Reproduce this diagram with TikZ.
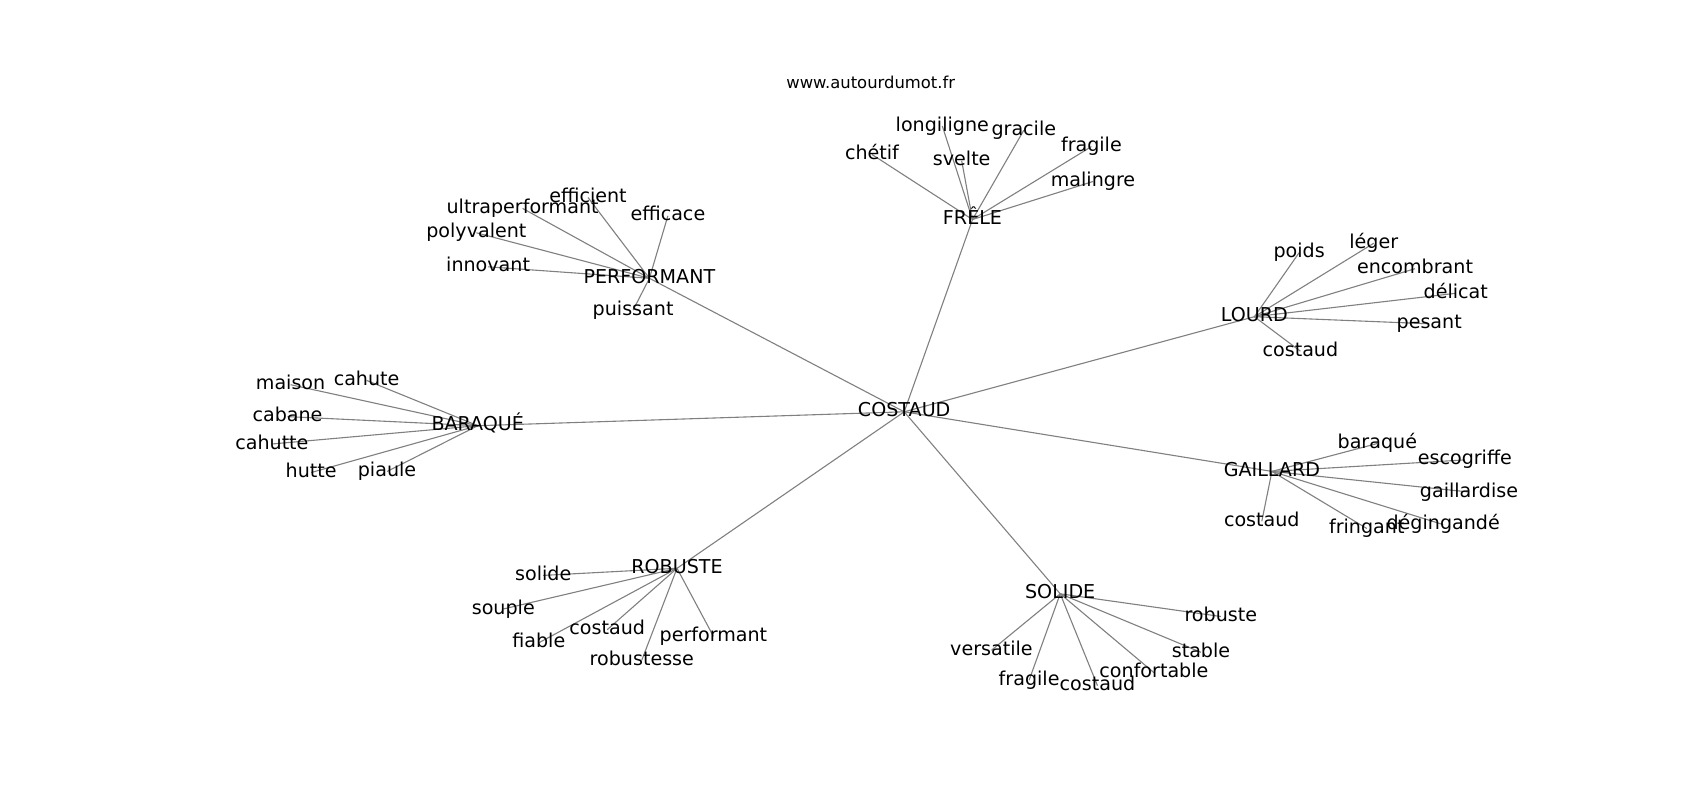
\documentclass[tikz,border=0pt]{standalone}
\usepackage{fontspec}
\setmainfont{DejaVu Sans}
\usetikzlibrary{backgrounds}
\tikzset{
  lbl/.style={inner sep=0pt, anchor=center, text=black, yshift=-2pt,
    font=\fontsize{19.1pt}{23pt}\selectfont, text height=14.5pt, text depth=4.5pt},
  ttl/.style={inner sep=0pt, anchor=center, text=black, yshift=-2pt,
    font=\fontsize{16.4pt}{20pt}\selectfont, text height=12.5pt, text depth=3.9pt},
  link/.style={draw=gray, line width=1.1pt},
}
\begin{document}
\begin{tikzpicture}[x=1pt,y=-1pt]
\useasboundingbox (0,0) rectangle (1700,800);

\node[ttl] (title) at (870.7,82.5) {www.autourdumot.fr};

% centre
\node[lbl] (costaud) at (904.2,409.8) {COSTAUD};

% FRELE
\node[lbl] (frele) at (972.5,217.5) {FRÊLE};
\node[lbl] (chetif) at (872,152.5) {chétif};
\node[lbl] (longiligne) at (942.3,124) {longiligne};
\node[lbl] (svelte) at (961.7,158.8) {svelte};
\node[lbl] (gracile) at (1023.8,128.2) {gracile};
\node[lbl] (fragileA) at (1091.4,144.6) {fragile};
\node[lbl] (malingre) at (1093,179.5) {malingre};

% PERFORMANT
\node[lbl] (performant) at (649.4,276.3) {PERFORMANT};
\node[lbl] (efficient) at (588,195.5) {efficient};
\node[lbl] (ultra) at (522.6,206.4) {ultraperformant};
\node[lbl] (efficace) at (667.9,213.8) {efficace};
\node[lbl] (polyvalent) at (476.4,230.8) {polyvalent};
\node[lbl] (innovant) at (488.1,264.8) {innovant};
\node[lbl] (puissant) at (633.1,308.1) {puissant};

% LOURD
\node[lbl] (lourd) at (1254.4,314.7) {LOURD};
\node[lbl] (poids) at (1299.2,250.6) {poids};
\node[lbl] (leger) at (1373.8,241.2) {léger};
\node[lbl] (encombrant) at (1415,266.7) {encombrant};
\node[lbl] (delicat) at (1455.8,291.3) {délicat};
\node[lbl] (pesant) at (1429.2,321.8) {pesant};
\node[lbl] (costaudL) at (1300.4,349.2) {costaud};

% GAILLARD
\node[lbl] (gaillard) at (1271.9,469.4) {GAILLARD};
\node[lbl] (baraqueG) at (1377.3,441.5) {baraqué};
\node[lbl] (escogriffe) at (1464.9,457.9) {escogriffe};
\node[lbl] (gaillardise) at (1469,490) {gaillardise};
\node[lbl] (degingande) at (1443.2,522.6) {dégingandé};
\node[lbl] (fringant) at (1366.8,526.5) {fringant};
\node[lbl] (costaudG) at (1261.8,519.3) {costaud};

% BARAQUE
\node[lbl] (baraque) at (477.8,423.7) {BARAQUÉ};
\node[lbl] (cahute) at (366.6,378.4) {cahute};
\node[lbl] (maison) at (290.6,382.7) {maison};
\node[lbl] (cabane) at (287.5,414.6) {cabane};
\node[lbl] (cahutte) at (271.9,442) {cahutte};
\node[lbl] (hutte) at (311.2,470.5) {hutte};
\node[lbl] (piaule) at (387,469.5) {piaule};

% ROBUSTE
\node[lbl] (robuste) at (677,566.3) {ROBUSTE};
\node[lbl] (solideR) at (543.2,573.4) {solide};
\node[lbl] (souple) at (503.3,607) {souple};
\node[lbl] (fiable) at (538.8,640.8) {fiable};
\node[lbl] (costaudR) at (607.2,627.7) {costaud};
\node[lbl] (robustesse) at (641.8,658.1) {robustesse};
\node[lbl] (performantR) at (713.4,634.3) {performant};

% SOLIDE
\node[lbl] (solide) at (1060.2,591.8) {SOLIDE};
\node[lbl] (robusteS) at (1220.8,614.5) {robuste};
\node[lbl] (stable) at (1201,650.3) {stable};
\node[lbl] (confortable) at (1153.9,670.6) {confortable};
\node[lbl] (costaudS) at (1097.5,683.7) {costaud};
\node[lbl] (fragileS) at (1029.1,678.2) {fragile};
\node[lbl] (versatile) at (991.4,648.3) {versatile};

\begin{scope}[on background layer]
  \fill[white] (0,0) rectangle (1700,800);
  \foreach \h in {frele,performant,lourd,gaillard,baraque,robuste,solide}
    \draw[link] (costaud.center) -- (\h.center);
  \foreach \l in {chetif,longiligne,svelte,gracile,fragileA,malingre}
    \draw[link] (frele.center) -- (\l.center);
  \foreach \l in {efficient,ultra,efficace,polyvalent,innovant,puissant}
    \draw[link] (performant.center) -- (\l.center);
  \foreach \l in {poids,leger,encombrant,delicat,pesant,costaudL}
    \draw[link] (lourd.center) -- (\l.center);
  \foreach \l in {baraqueG,escogriffe,gaillardise,degingande,fringant,costaudG}
    \draw[link] (gaillard.center) -- (\l.center);
  \foreach \l in {cahute,maison,cabane,cahutte,hutte,piaule}
    \draw[link] (baraque.center) -- (\l.center);
  \foreach \l in {solideR,souple,fiable,costaudR,robustesse,performantR}
    \draw[link] (robuste.center) -- (\l.center);
  \foreach \l in {robusteS,stable,confortable,costaudS,fragileS,versatile}
    \draw[link] (solide.center) -- (\l.center);
\end{scope}
\end{tikzpicture}
\end{document}
